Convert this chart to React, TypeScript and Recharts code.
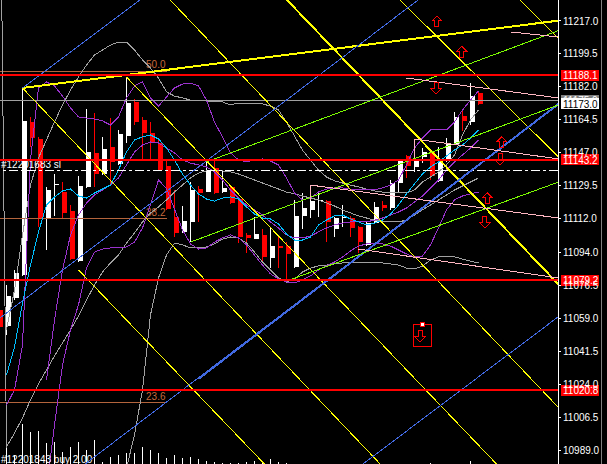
import React from 'react';
import { ComposedChart, Bar, Line, Scatter, XAxis, YAxis, ReferenceLine } from 'recharts';

// bar -1 is the partly hidden candle on the left edge
const opens = [11063.4, 11054.9, 11069.8, 11082.0, 11163.3, 11154.3, 11111.8, 11130.0, 11126.1, 11116.0, 11089.4, 11128.8, 11146.9, 11135.7, 11150.0, 11141.0, 11155.9, 11174.0, 11164.4, 11157.5, 11152.2, 11139.9, 11112.8, 11104.9, 11110.2, 11127.7, 11126.1, 11138.9, 11126.1, 11128.8, 11122.4, 11103.3, 11101.1, 11103.3, 11091.0, 11097.4, 11097.4, 11086.3, 11113.4, 11116.6, 11121.7, 11121.3, 11106.5, 11112.5, 11112.3, 11107.5, 11098.0, 11109.6, 11119.2, 11117.6, 11130.9, 11145.3, 11139.4, 11144.7, 11147.4, 11132.0, 11142.6, 11151.6, 11166.5, 11163.3, 11178.7];
const highs = [11066.1, 11076.7, 11084.7, 11181.4, 11166.0, 11155.4, 11128.8, 11135.7, 11131.4, 11119.2, 11134.6, 11170.2, 11168.1, 11155.4, 11165.4, 11159.1, 11187.2, 11175.5, 11166.0, 11163.3, 11154.8, 11143.7, 11127.2, 11118.7, 11131.4, 11129.3, 11142.1, 11143.1, 11137.8, 11129.3, 11122.9, 11104.3, 11112.8, 11106.5, 11107.0, 11102.2, 11099.5, 11121.9, 11125.6, 11129.8, 11125.6, 11121.9, 11112.8, 11119.2, 11113.4, 11108.1, 11110.2, 11120.8, 11121.3, 11132.5, 11143.1, 11145.8, 11153.2, 11149.5, 11148.4, 11150.0, 11154.8, 11168.6, 11169.2, 11184.0, 11179.3];
const lows = [11052.8, 11050.1, 11068.7, 11081.5, 11150.0, 11107.5, 11095.3, 11113.4, 11111.8, 11090.0, 11088.9, 11128.3, 11128.8, 11135.2, 11129.8, 11140.5, 11152.2, 11161.7, 11143.1, 11143.1, 11137.3, 11116.6, 11102.2, 11104.3, 11099.5, 11110.2, 11125.9, 11125.1, 11125.6, 11119.7, 11099.0, 11093.7, 11100.9, 11088.4, 11085.7, 11085.7, 11078.8, 11085.7, 11106.5, 11112.3, 11112.8, 11099.5, 11102.2, 11107.5, 11102.2, 11093.7, 11097.4, 11109.1, 11116.0, 11116.6, 11125.6, 11133.6, 11136.8, 11141.5, 11132.5, 11131.4, 11142.1, 11151.1, 11158.5, 11161.7, 11172.4];
const closes = [11054.4, 11070.8, 11083.1, 11163.9, 11154.8, 11111.8, 11127.2, 11130.4, 11115.0, 11090.5, 11129.3, 11147.4, 11135.7, 11149.0, 11142.1, 11156.9, 11173.4, 11163.3, 11157.5, 11152.2, 11137.8, 11117.1, 11104.3, 11110.7, 11127.2, 11125.6, 11137.8, 11125.6, 11128.3, 11120.3, 11102.2, 11101.9, 11103.8, 11091.6, 11097.4, 11096.4, 11093.2, 11113.4, 11117.6, 11121.3, 11121.9, 11110.2, 11112.3, 11112.8, 11107.0, 11099.5, 11109.6, 11118.2, 11117.6, 11130.9, 11142.6, 11139.9, 11142.6, 11147.4, 11134.6, 11143.1, 11152.2, 11166.0, 11163.9, 11177.1, 11173.0];
const volumes = [null, 220, 90, 400, 320, 330, 210, 220, 120, 170, 220, 140, 240, 20, 70, 90, 110, 110, 170, 140, 110, 60, 90, 60, 70, 50, 30, 20, 10, 10, 10, 20, 30, 20, 50, 20, 10, 0, 0, 0, 0, 0, 0, 0, 0, 0, 0, 0, 0, 0, 0, 0, 0, 0, 15, 0, 0, 0, 0, 30, 0];

// indicators
const fastMa = [null, 11028.9, 11043.7, 11067.1, 11087.3, 11104.9, 11119.2, 11123.5, 11126.7, 11127.7, 11124.0, 11122.9, 11125.6, 11127.7, 11129.8, 11137.8, 11147.4, 11153.8, 11155.4, 11156.4, 11154.3, 11149.5, 11143.1, 11135.7, 11129.8, 11125.1, 11122.4, 11121.3, 11122.9, 11123.5, 11122.4, 11118.2, 11114.4, 11112.3, 11111.8, 11109.1, 11103.8, 11100.6, 11100.6, 11102.2, 11108.6, 11111.2, 11113.4, 11113.9, 11111.8, 11110.2, 11108.6, 11109.6, 11111.2, 11114.4, 11119.2, 11125.1, 11130.4, 11135.7, 11139.4, 11142.1, 11145.3, 11148.4, 11151.1, 11154.8, 11159.1];
const bandUpper = [null, 11012.9, 11020.9, 11044.8, 11143.1, 11181.4, 11184.6, 11182.5, 11177.1, 11170.8, 11166.0, 11165.4, 11164.9, 11163.9, 11161.7, 11166.0, 11176.1, 11182.5, 11184.6, 11176.1, 11171.8, 11176.6, 11181.4, 11183.5, 11184.0, 11182.5, 11175.0, 11163.3, 11155.4, 11146.9, 11143.1, 11142.1, 11143.1, 11143.7, 11142.6, 11140.5, 11133.6, 11125.6, 11121.9, 11122.9, 11126.1, 11127.7, 11128.3, 11128.3, 11127.7, 11127.2, 11127.2, 11127.2, 11128.3, 11129.8, 11132.5, 11140.5, 11149.5, 11154.8, 11159.1, 11159.1, 11159.1, 11163.3, 11169.7, 11175.0, 11179.8];
const bandMiddle = [null, null, null, null, null, null, 11026.2, 11058.1, 11084.7, 11103.3, 11113.9, 11120.3, 11124.5, 11127.2, 11129.8, 11133.6, 11140.5, 11147.4, 11151.1, 11152.7, 11152.2, 11149.5, 11146.9, 11143.1, 11141.5, 11140.5, 11139.4, 11136.8, 11132.5, 11127.2, 11122.9, 11119.2, 11116.6, 11113.9, 11110.2, 11107.0, 11103.3, 11101.7, 11101.7, 11102.7, 11104.9, 11107.0, 11108.6, 11109.6, 11110.2, 11110.2, 11110.2, 11111.2, 11112.3, 11113.9, 11115.5, 11117.6, 11120.8, 11124.0, 11128.3, 11132.5, 11137.8, 11142.1, 11145.8, 11149.5, 11153.8];
const bandLower = [null, null, null, null, null, null, 10967.7, 11002.3, 11034.2, 11052.8, 11066.1, 11085.7, 11094.2, 11095.8, 11096.4, 11096.4, 11096.9, 11099.5, 11107.0, 11119.2, 11132.5, 11128.0, 11117.0, 11106.0, 11098.5, 11095.8, 11096.4, 11099.5, 11101.7, 11103.3, 11101.7, 11098.0, 11092.6, 11087.3, 11082.6, 11080.0, 11078.3, 11077.8, 11079.4, 11081.5, 11084.7, 11086.8, 11088.9, 11091.6, 11094.8, 11097.4, 11098.5, 11099.0, 11098.5, 11097.4, 11095.3, 11093.2, 11091.6, 11092.1, 11098.0, 11107.0, 11116.6, 11121.9, 11124.0, 11125.1, 11126.1];
const envUpper = [null, 11052.8, 11074.0, 11103.3, 11129.8, 11144.2, 11153.8, 11163.3, 11172.4, 11180.3, 11187.2, 11193.6, 11198.9, 11201.6, 11204.2, 11205.8, 11205.8, 11201.6, 11196.3, 11192.0, 11186.7, 11179.3, 11177.1, 11176.1, 11175.0, 11175.0, 11174.5, 11174.0, 11174.0, 11172.4, 11173.4, 11173.4, 11173.4, 11172.9, 11171.8, 11169.7, 11163.3, 11155.9, 11148.4, 11143.1, 11137.8, 11134.1, 11132.0, 11130.9, 11129.8, 11128.8, 11127.7, 11126.7, 11126.1, 11125.6, 11125.6, 11125.6, 11127.2, 11131.4, 11134.1, 11136.8, 11140.5, 11145.8, 11156.4, 11164.4, 11169.7];
const envMiddle = [11394.0, 10990.6, 10998.0, 11006.0, 11015.6, 11024.1, 11031.5, 11039.0, 11045.9, 11052.8, 11060.2, 11068.7, 11076.7, 11083.6, 11088.4, 11092.6, 11099.0, 11104.3, 11110.2, 11115.0, 11118.2, 11121.9, 11126.1, 11129.8, 11133.6, 11136.2, 11137.3, 11137.8, 11137.3, 11136.8, 11135.7, 11134.1, 11132.5, 11130.9, 11129.3, 11127.7, 11126.1, 11125.1, 11124.0, 11122.9, 11121.9, 11120.3, 11118.7, 11116.6, 11115.0, 11113.4, 11112.3, 11111.2, 11110.7, 11110.2, 11110.2, 11111.2, 11113.9, 11116.6, 11119.2, 11121.9, 11124.5, 11127.2, 11129.3, 11131.4, 11133.6];
const envLower = [null, null, null, null, null, null, null, null, null, null, null, null, null, null, null, 10951.8, 10979.4, 10997.0, 11020.9, 11060.8, 11080.4, 11092.6, 11099.0, 11098.0, 11096.4, 11096.4, 11096.9, 11098.5, 11101.1, 11102.2, 11101.7, 11099.0, 11094.2, 11088.9, 11084.7, 11080.4, 11078.3, 11079.9, 11083.6, 11085.7, 11086.8, 11087.3, 11087.9, 11088.4, 11088.4, 11088.4, 11088.9, 11088.9, 11088.4, 11087.9, 11087.3, 11085.7, 11085.2, 11086.8, 11090.0, 11091.6, 11092.1, 11091.6, 11090.5, 11089.4, 11088.4];

// drawn objects: [bar1, price1, bar2, price2]
const yellowLines = [
  [2, 11181.4, 48, 10975.8],
  [15, 11187.2, 63, 10973.8],
  [9, 11084.7, 33, 10978.2],
  [19.5, 11232.4, 70, 11007.1],
  [63, 11233.2, 70, 11203.4],
  [48, 11233.2, 70, 11140.5],
];
const yellowThick = [
  [34, 11232.9, 69, 11077.0],
  [2, 11181.4, 69, 11217.2],
];
const blueLines = [
  [2, 11181.4, 18, 11232.4],
  [-1, 11058.6, 53, 11233.2],
  [9, 10978.9, 69, 11172.9],
  [44, 10979.8, 69, 11059.9],
];
const blueThick = [[24, 11026.8, 69, 11172.9]];
const greenLines = [
  [25, 11142.1, 69, 11211.9],
  [23, 11099.5, 69, 11172.4],
  [35, 11078.8, 69, 11131.4],
];
const pinkLines = [
  [63, 11211.2, 69, 11208.5],
  [50, 11186.7, 69, 11176.1],
  [51, 11154.3, 69, 11143.7],
  [51, 11154.3, 51, 11144.2],
  [38, 11129.8, 69, 11112.3],
  [38, 11129.8, 38, 11121.9],
  [44, 11095.8, 69, 11080.4],
];

const redLevels = [11188.1, 11143.2, 11079.2, 11020.8];
const fibLevels = [['50.0', 11190.3], ['38.2', 11111.8], ['23.6', 11014.0]];
const fibEndBar = 20;
const askPrice = 11175.0;
const bidPrice = 11173.0;
const stopPrice = 11137.3;
const buyPrice = 10981.7;
const priceTicks = [11217.0, 11199.5, 11182.0, 11164.5, 11147.0, 11129.5, 11112.0, 11094.0, 11076.5, 11059.0, 11041.5, 11024.0, 11006.5, 10989.0];

const upArrows = [{ i: 53.8, p: 11216.5 }, { i: 56.9, p: 11200.5 }, { i: 61.9, p: 11152.2 }, { i: 60.1, p: 11122.4 }];
const downArrows = [{ i: 53.7, p: 11181.4 }, { i: 61.7, p: 11143.7 }, { i: 59.8, p: 11110.2 }];
const boxedArrows = [{ i: 51.7, p: 11049.6 }];

const data = opens.map((o, k) => ({
  i: k - 1,
  o,
  h: highs[k],
  l: lows[k],
  c: closes[k],
  v: volumes[k],
  ma: fastMa[k],
  bu: bandUpper[k],
  bm: bandMiddle[k],
  bl: bandLower[k],
  eu: envUpper[k],
  em: envMiddle[k],
  el: envLower[k],
}));

const FONT = '"Liberation Sans", Arial, sans-serif';
const RED = '#ff0000';

function Candle(props: any) {
  const { x, y, width, height, payload } = props;
  if (payload == null || width == null) return null;
  const top = Math.min(y, y + height);
  const span = Math.abs(height);
  const k = span / (payload.h - payload.l || 1);
  const bodyTop = top + (payload.h - Math.max(payload.o, payload.c)) * k;
  const bodyH = Math.max(1, Math.abs(payload.o - payload.c) * k);
  const color = payload.c >= payload.o ? '#ffffff' : RED;
  const cx = Math.round(x + width / 2 - 0.5);
  return (
    <g>
      <rect x={cx} y={top} width={1} height={Math.max(1, span)} fill={color} />
      <rect x={Math.round(x)} y={bodyTop} width={5} height={bodyH} fill={color} />
    </g>
  );
}

function UpArrow({ cx, cy }: any) {
  return (
    <path
      d={`M${cx},${cy - 6} L${cx + 5},${cy - 1} L${cx + 2},${cy - 1} L${cx + 2},${cy + 5} L${cx - 2},${cy + 5} L${cx - 2},${cy - 1} L${cx - 5},${cy - 1} Z`}
      fill="none"
      stroke={RED}
    />
  );
}

function DownArrow({ cx, cy }: any) {
  return (
    <path
      d={`M${cx},${cy + 6} L${cx + 5},${cy + 1} L${cx + 2},${cy + 1} L${cx + 2},${cy - 5} L${cx - 2},${cy - 5} L${cx - 2},${cy + 1} L${cx - 5},${cy + 1} Z`}
      fill="none"
      stroke={RED}
    />
  );
}

function BoxedArrow(props: any) {
  const { cx, cy } = props;
  return (
    <g>
      <rect x={cx - 7} y={cy - 11} width={18} height={22} fill="none" stroke={RED} />
      <DownArrow cx={cx} cy={cy} />
      <rect x={cx} y={cy - 13} width={4} height={4} fill="#fff" stroke={RED} />
    </g>
  );
}

function priceTag(text: string, fill: string, color: string, shift = 0) {
  return (props: any) => {
    const vb = props.viewBox;
    const x = vb.x + vb.width;
    const y = vb.y + shift;
    return (
      <g>
        <rect x={x + 3} y={y - 5.5} width={38} height={11} fill={fill} />
        <text x={x + 5} y={y + 4} fill={color} fontSize={10} fontFamily={FONT}>
          {text}
        </text>
      </g>
    );
  };
}

function leftNote(text: string, dy: number) {
  return (props: any) => (
    <text x={props.viewBox.x + 1} y={props.viewBox.y + dy} fill="#fff" fontSize={10} fontFamily={FONT}>
      {text}
    </text>
  );
}

function fibText(text: string) {
  return (props: any) => (
    <text
      x={props.viewBox.x + props.viewBox.width - 1}
      y={props.viewBox.y - 3}
      fill="#c8693c"
      fontSize={10}
      fontFamily={FONT}
      textAnchor="end"
    >
      {text}
    </text>
  );
}

function segments(list: number[][], color: string, width: number, prefix: string) {
  return list.map((s, n) => (
    <ReferenceLine
      key={prefix + n}
      segment={[{ x: s[0], y: s[1] }, { x: s[2], y: s[3] }]}
      stroke={color}
      strokeWidth={width}
      ifOverflow="hidden"
    />
  ));
}

const xDomain = [-0.8125, 68.9375];

export default function App() {
  return (
    <div
      style={{
        position: 'fixed',
        left: 0,
        top: 0,
        width: 607,
        height: 464,
        background: '#000',
        shapeRendering: 'crispEdges',
      }}
    >
      <ComposedChart width={607} height={464} data={data} margin={{ top: 0, right: 0, bottom: 0, left: 0 }}>
        <XAxis dataKey="i" type="number" domain={xDomain} allowDataOverflow hide />
        <XAxis xAxisId="v" dataKey="i" type="number" domain={xDomain} allowDataOverflow hide />
        <YAxis
          orientation="right"
          width={49}
          domain={[10981.56, 11228.16]}
          allowDataOverflow
          ticks={priceTicks}
          interval={0}
          tickFormatter={(v: number) => v.toFixed(1)}
          tick={{ fill: '#fff', fontSize: 10, fontFamily: FONT }}
          tickSize={3}
          tickMargin={2}
          axisLine={{ stroke: '#fff' }}
          tickLine={{ stroke: '#fff' }}
        />
        <YAxis yAxisId="v" domain={[0, 4640]} hide />

        <Bar xAxisId="v" yAxisId="v" dataKey="v" barSize={1} fill="#fff" isAnimationActive={false} />

        {fibLevels.map(([t, p]) => (
          <ReferenceLine
            key={'fib' + t}
            segment={[{ x: xDomain[0], y: p as number }, { x: fibEndBar, y: p as number }]}
            stroke="#b4643c"
            ifOverflow="visible"
            label={fibText(t as string)}
          />
        ))}

        <Line dataKey="em" stroke="#a0a0a0" dot={false} isAnimationActive={false} />
        <Line dataKey="eu" stroke="#a0a0a0" dot={false} isAnimationActive={false} />
        <Line dataKey="el" stroke="#a0a0a0" dot={false} isAnimationActive={false} />
        <Line dataKey="bu" stroke="#9932cc" dot={false} isAnimationActive={false} />
        <Line dataKey="bm" stroke="#9932cc" dot={false} isAnimationActive={false} />
        <Line dataKey="bl" stroke="#9932cc" dot={false} isAnimationActive={false} />
        <Line dataKey="ma" stroke="#00bfff" dot={false} isAnimationActive={false} />

        <ReferenceLine y={askPrice} stroke="#a0a0a0" ifOverflow="visible" label={priceTag(askPrice.toFixed(1), '#808080', '#fff')} />
        <ReferenceLine
          y={stopPrice}
          stroke="#fff"
          strokeDasharray="9 3 3 3"
          ifOverflow="visible"
          label={leftNote('#12201683 sl', -3)}
        />
        <ReferenceLine y={buyPrice} stroke="none" ifOverflow="visible" label={leftNote('#12201843 buy 2.00', -1)} />

        {segments(yellowLines, '#ffff00', 1, 'y')}
        {segments(yellowThick, '#ffff00', 2, 'yt')}
        {segments(blueLines, '#4169e1', 1, 'b')}
        {segments(blueThick, '#4169e1', 2, 'bt')}
        {segments(greenLines, '#7cfc00', 1, 'g')}
        {segments(pinkLines, '#ffb6c1', 1, 'p')}

        {redLevels.map((p) => (
          <ReferenceLine key={'r' + p} y={p} stroke={RED} strokeWidth={2} ifOverflow="visible" label={priceTag(p.toFixed(1), RED, '#fff')} />
        ))}
        <ReferenceLine y={bidPrice} stroke="none" ifOverflow="visible" label={priceTag(bidPrice.toFixed(1), '#fff', '#000')} />

        <Bar dataKey={(d: any) => [d.l, d.h]} barSize={5} shape={Candle} isAnimationActive={false} />

        <Scatter data={upArrows} dataKey="p" shape={UpArrow} isAnimationActive={false} />
        <Scatter data={downArrows} dataKey="p" shape={DownArrow} isAnimationActive={false} />
        <Scatter data={boxedArrows} dataKey="p" shape={BoxedArrow} isAnimationActive={false} />
      </ComposedChart>
      <div style={{ position: 'absolute', left: 601, top: 0, width: 1, height: 464, background: '#808080' }} />
    </div>
  );
}
